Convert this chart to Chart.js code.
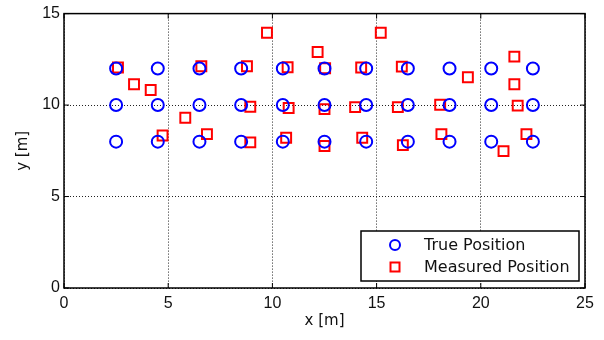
<!DOCTYPE html>
<html>
<head>
<meta charset="utf-8">
<script src="https://cdn.jsdelivr.net/npm/chart.js@4"></script>
<style>
  body { margin: 0; background: #fff; }
  #wrap { width: 604px; height: 340px; }
</style>
</head>
<body>
<div id="wrap"><canvas id="posChart" width="604" height="340"></canvas></div>
<script>
// True positions: grid of x columns and y rows
const trueXs = [2.5, 4.5, 6.5, 8.5, 10.5, 12.5, 14.5, 16.5, 18.5, 20.5, 22.5];
const trueYs = [8, 10, 12];

// Measured positions
const measX = [2.59, 3.36, 4.16, 4.73, 5.82, 6.59, 6.86, 8.78, 8.94, 8.94, 9.74,
               10.73, 10.78, 10.66, 12.17, 12.53, 12.5, 12.5, 14.26, 13.97, 14.31,
               15.2, 16.21, 16.02, 16.26, 18.05, 18.11, 19.38, 21.09, 21.61, 21.61,
               21.77, 22.19];
const measY = [12.05, 11.14, 10.82, 8.34, 9.31, 12.12, 8.41, 12.12, 9.91, 7.96, 13.95,
               12.07, 9.84, 8.21, 12.9, 12.01, 9.78, 7.76, 12.05, 9.89, 8.21,
               13.95, 12.1, 9.89, 7.81, 10.02, 8.41, 11.52, 7.48, 12.65, 11.14,
               9.97, 8.41];

const xTicks = [0, 5, 10, 15, 20, 25];
const yTicks = [0, 5, 10, 15];

const truePts = [];
trueXs.forEach(x => trueYs.forEach(y => truePts.push({ x: x, y: y })));
const measPts = measX.map((x, i) => ({ x: x, y: measY[i] }));

// box around the plot with inward tick marks
const boxPlugin = {
    id: 'box',
    afterDatasetsDraw(chart) {
        const { ctx, chartArea: a, scales } = chart;
        ctx.save();
        ctx.strokeStyle = '#000';
        ctx.lineWidth = 1.5;
        ctx.strokeRect(a.left, a.top, a.right - a.left, a.bottom - a.top);
        ctx.lineWidth = 1;
        ctx.beginPath();
        xTicks.forEach(v => {
            const px = scales.x.getPixelForValue(v);
            ctx.moveTo(px, a.bottom); ctx.lineTo(px, a.bottom - 5);
            ctx.moveTo(px, a.top); ctx.lineTo(px, a.top + 5);
        });
        yTicks.forEach(v => {
            const py = scales.y.getPixelForValue(v);
            ctx.moveTo(a.left, py); ctx.lineTo(a.left + 5, py);
            ctx.moveTo(a.right, py); ctx.lineTo(a.right - 5, py);
        });
        ctx.stroke();
        ctx.restore();
    }
};

// legend box in the lower right corner
const legendBox = {
    id: 'legendBox',
    afterDraw(chart) {
        const ctx = chart.ctx;
        const bx = 361, by = 231, bw = 218, bh = 50;
        ctx.save();
        ctx.fillStyle = '#fff';
        ctx.fillRect(bx, by, bw, bh);
        ctx.strokeStyle = '#000';
        ctx.lineWidth = 1.5;
        ctx.strokeRect(bx, by, bw, bh);
        ctx.font = '16px "DejaVu Sans"';
        ctx.textBaseline = 'middle';
        chart.data.datasets.forEach((ds, i) => {
            const cy = by + 14 + i * 22;
            ctx.strokeStyle = ds.borderColor;
            ctx.lineWidth = 2;
            ctx.beginPath();
            if (ds.pointStyle === 'circle') {
                ctx.arc(395, cy, 5, 0, Math.PI * 2);
            } else {
                ctx.rect(390.5, cy - 4.5, 9, 9);
            }
            ctx.stroke();
            ctx.fillStyle = '#111';
            ctx.fillText(ds.label, 424, cy + 1);
        });
        ctx.restore();
    }
};

new Chart(document.getElementById('posChart'), {
    type: 'scatter',
    data: {
        datasets: [{
            label: 'True Position',
            data: truePts,
            pointStyle: 'circle',
            pointRadius: 6,
            borderColor: '#0000ff',
            backgroundColor: 'rgba(0,0,0,0)',
            pointBorderWidth: 2
        }, {
            label: 'Measured Position',
            data: measPts,
            pointStyle: 'rect',
            pointRadius: 7,
            borderColor: '#ff0000',
            backgroundColor: 'rgba(0,0,0,0)',
            pointBorderWidth: 2
        }]
    },
    options: {
        responsive: false,
        animation: false,
        layout: { padding: { top: 12, right: 19, left: 0, bottom: 0 } },
        plugins: { legend: { display: false }, tooltip: { enabled: false } },
        scales: {
            x: {
                type: 'linear', min: 0, max: 25,
                afterFit: s => { s.height = 52; },
                afterBuildTicks: s => { s.ticks = xTicks.map(v => ({ value: v })); },
                ticks: { padding: 6, color: '#111', font: { family: 'Liberation Sans', size: 16 } },
                grid: { color: '#222', lineWidth: 1, drawTicks: false },
                border: { display: false, dash: [1, 2] },
                title: { display: true, text: 'x [m]', color: '#111', padding: { bottom: 10 },
                         font: { family: 'DejaVu Sans', size: 15 } }
            },
            y: {
                type: 'linear', min: 0, max: 15,
                afterFit: s => { s.width = 64; },
                afterBuildTicks: s => { s.ticks = yTicks.map(v => ({ value: v })); },
                ticks: { padding: 4, color: '#111', font: { family: 'Liberation Sans', size: 16 } },
                grid: { color: '#222', lineWidth: 1, drawTicks: false },
                border: { display: false, dash: [1, 2] },
                title: { display: true, text: 'y [m]', color: '#111', padding: { top: 14 },
                         font: { family: 'DejaVu Sans', size: 15 } }
            }
        }
    },
    plugins: [boxPlugin, legendBox]
});
</script>
</body>
</html>
